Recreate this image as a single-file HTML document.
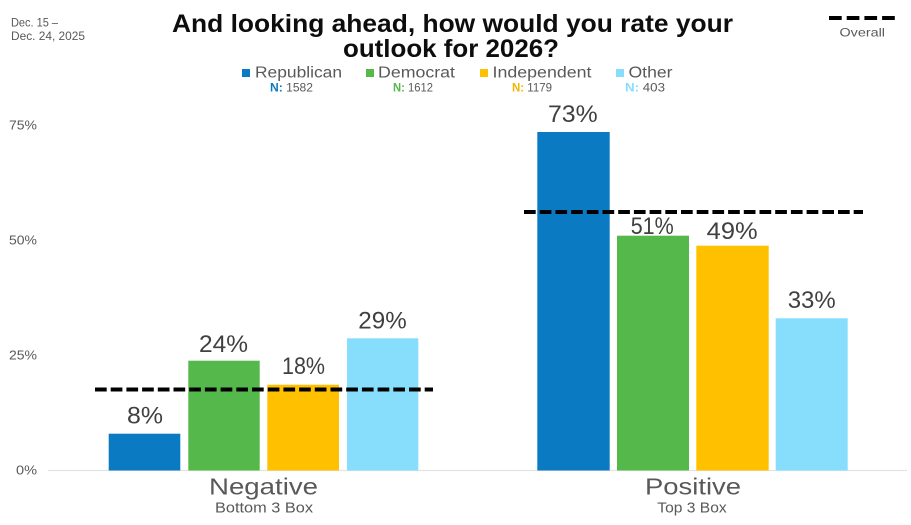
<!DOCTYPE html>
<html>
<head>
<meta charset="utf-8">
<style>
  html, body { margin: 0; padding: 0; background: #ffffff; }
  svg { display: block; }
  text { font-family: "Liberation Sans", sans-serif; }
</style>
</head>
<body>
<svg width="911" height="525" viewBox="0 0 911 525" xmlns="http://www.w3.org/2000/svg">
  <rect x="0" y="0" width="911" height="525" fill="#ffffff"/>

  <!-- Date -->
  <text x="11" y="26.5" font-size="12" fill="#595959" textLength="47" lengthAdjust="spacingAndGlyphs">Dec. 15 –</text>
  <text x="11" y="40" font-size="12" fill="#595959" textLength="74" lengthAdjust="spacingAndGlyphs">Dec. 24, 2025</text>

  <!-- Title -->
  <text x="172" y="32" font-size="25" font-weight="bold" fill="#0d0d0d" textLength="561" lengthAdjust="spacingAndGlyphs">And looking ahead, how would you rate your</text>
  <text x="343" y="57" font-size="25" font-weight="bold" fill="#0d0d0d" textLength="216" lengthAdjust="spacingAndGlyphs">outlook for 2026?</text>

  <!-- Legend -->
  <rect x="242" y="69" width="8" height="8" fill="#0a7bc2"/>
  <text x="255" y="77.5" font-size="15.5" fill="#595959" textLength="87" lengthAdjust="spacingAndGlyphs">Republican</text>
  <text x="270" y="91.5" font-size="12" fill="#595959" textLength="43" lengthAdjust="spacingAndGlyphs"><tspan fill="#0a7bc2" font-weight="bold">N:</tspan> 1582</text>

  <rect x="366" y="69" width="8" height="8" fill="#55b84b"/>
  <text x="378" y="77.5" font-size="15.5" fill="#595959" textLength="77" lengthAdjust="spacingAndGlyphs">Democrat</text>
  <text x="393" y="91.5" font-size="12" fill="#595959" textLength="40" lengthAdjust="spacingAndGlyphs"><tspan fill="#55b84b" font-weight="bold">N:</tspan> 1612</text>

  <rect x="480" y="69" width="8" height="8" fill="#ffc000"/>
  <text x="492.5" y="77.5" font-size="15.5" fill="#595959" textLength="99" lengthAdjust="spacingAndGlyphs">Independent</text>
  <text x="512" y="91.5" font-size="12" fill="#595959" textLength="40" lengthAdjust="spacingAndGlyphs"><tspan fill="#f2b600" font-weight="bold">N:</tspan> 1179</text>

  <rect x="616" y="69" width="8" height="8" fill="#87defc"/>
  <text x="628.5" y="77.5" font-size="15.5" fill="#595959" textLength="44" lengthAdjust="spacingAndGlyphs">Other</text>
  <text x="625" y="91.5" font-size="12" fill="#595959" textLength="40" lengthAdjust="spacingAndGlyphs"><tspan fill="#87defc" font-weight="bold">N:</tspan> 403</text>

  <!-- Overall legend -->
  <line x1="829" y1="18" x2="897" y2="18" stroke="#000" stroke-width="4" stroke-dasharray="12.7 5"/>
  <text x="839.5" y="36.5" font-size="12" fill="#595959" textLength="45.5" lengthAdjust="spacingAndGlyphs">Overall</text>

  <!-- Y axis labels -->
  <text x="9" y="129.5" font-size="12.5" fill="#595959" textLength="28" lengthAdjust="spacingAndGlyphs">75%</text>
  <text x="9" y="244.5" font-size="12.5" fill="#595959" textLength="28" lengthAdjust="spacingAndGlyphs">50%</text>
  <text x="9" y="359.5" font-size="12.5" fill="#595959" textLength="28" lengthAdjust="spacingAndGlyphs">25%</text>
  <text x="16" y="474.5" font-size="12.5" fill="#595959" textLength="21" lengthAdjust="spacingAndGlyphs">0%</text>

  <!-- Baseline -->
  <line x1="48" y1="470.5" x2="907" y2="470.5" stroke="#e3e3e3" stroke-width="1.2"/>

  <!-- Negative bars -->
  <rect x="108.7" y="433.7" width="71.6" height="36.8" fill="#0a7bc2"/>
  <rect x="188.3" y="360.7" width="71.4" height="109.8" fill="#55b84b"/>
  <rect x="267.3" y="384.7" width="71.7" height="85.8" fill="#ffc000"/>
  <rect x="347" y="338.3" width="71.3" height="132.2" fill="#87defc"/>

  <!-- Positive bars -->
  <rect x="537.3" y="132" width="72.4" height="338.5" fill="#0a7bc2"/>
  <rect x="617" y="235.7" width="72" height="234.8" fill="#55b84b"/>
  <rect x="696.3" y="245.7" width="72.4" height="224.8" fill="#ffc000"/>
  <rect x="775.7" y="318.3" width="72" height="152.2" fill="#87defc"/>

  <!-- Overall dashed lines -->
  <line x1="95" y1="389.5" x2="433" y2="389.5" stroke="#000" stroke-width="4" stroke-dasharray="11.7 4"/>
  <line x1="524" y1="212" x2="863" y2="212" stroke="#000" stroke-width="4" stroke-dasharray="11.7 4"/>

  <!-- Value labels -->
  <g font-size="24" fill="#404040">
    <text x="127" y="423.3" textLength="36" lengthAdjust="spacingAndGlyphs">8%</text>
    <text x="199" y="352" textLength="49" lengthAdjust="spacingAndGlyphs">24%</text>
    <text x="282" y="374" textLength="43" lengthAdjust="spacingAndGlyphs">18%</text>
    <text x="358.3" y="328.3" textLength="48.4" lengthAdjust="spacingAndGlyphs">29%</text>
    <text x="548" y="122" textLength="49.7" lengthAdjust="spacingAndGlyphs">73%</text>
    <text x="630.7" y="234" textLength="43" lengthAdjust="spacingAndGlyphs">51%</text>
    <text x="706.7" y="239" textLength="51" lengthAdjust="spacingAndGlyphs">49%</text>
    <text x="787.7" y="308" textLength="48" lengthAdjust="spacingAndGlyphs">33%</text>
  </g>

  <!-- Category labels -->
  <text x="209" y="494.3" font-size="23" fill="#595959" textLength="109" lengthAdjust="spacingAndGlyphs">Negative</text>
  <text x="215" y="512.3" font-size="14.5" fill="#595959" textLength="98" lengthAdjust="spacingAndGlyphs">Bottom 3 Box</text>
  <text x="645" y="494.3" font-size="23" fill="#595959" textLength="96" lengthAdjust="spacingAndGlyphs">Positive</text>
  <text x="657.3" y="512.3" font-size="14.5" fill="#595959" textLength="69.4" lengthAdjust="spacingAndGlyphs">Top 3 Box</text>
</svg>
</body>
</html>
